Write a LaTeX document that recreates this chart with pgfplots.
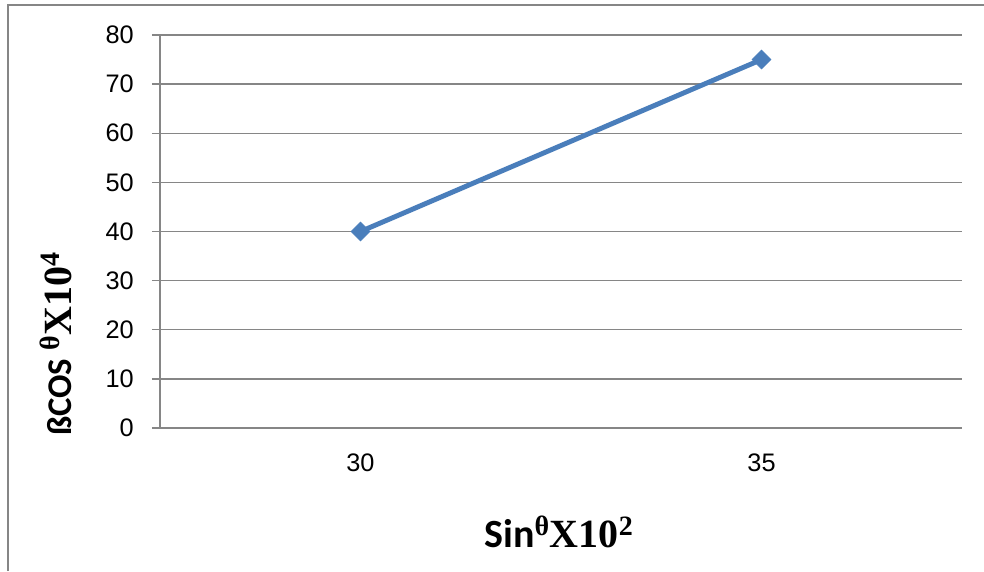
\documentclass[border=0pt]{standalone}
\usepackage{fontspec}
\setmainfont{Liberation Sans}
\newfontfamily\timesb{Liberation Serif}[BoldFont={* Bold}]
\newfontfamily\calib{Carlito}[BoldFont={* Bold}]
\usepackage{pgfplots}
\pgfplotsset{compat=1.18}
\definecolor{gridgray}{RGB}{134,134,134}
\definecolor{lineblue}{RGB}{74,126,187}
\begin{document}
\begin{tikzpicture}
\useasboundingbox (0pt,0pt) rectangle (738pt,-428.25pt);
\draw[gridgray,line width=1.5pt] (5.625pt,-428.25pt) -- (5.625pt,-3.75pt) -- (738pt,-3.75pt);
\begin{axis}[
  at={(120pt,-321pt)}, anchor=south west,
  scale only axis,
  width=601.5pt, height=294.75pt,
  xmin=-0.5, xmax=1.5,
  ymin=0, ymax=80,
  ytick={0,10,...,80},
  xtick={0,1}, xticklabels={30,35},
  axis x line*=bottom, axis y line*=left,
  axis line style={gridgray, line width=1pt},
  ymajorgrids,
  major grid style={gridgray, line width=1pt},
  tick align=outside,
  major tick length=6pt,
  ytick style={gridgray, line width=1pt},
  xtick style={draw=none},
  /pgf/number format/assume math mode=true,
  tick label style={font=\fontsize{19}{21}\selectfont, inner sep=0pt},
  yticklabel style={anchor=east, xshift=-13.5pt},
  xticklabel style={anchor=north, yshift=-13.5pt},
  every axis y label/.style={at={(rel axis cs:-0.1297,0.214)},rotate=90,anchor=center},
  every axis x label/.style={at={(rel axis cs:0.4975,-0.2646)},anchor=center},
  ylabel={{\calib\fontsize{26}{28}\selectfont\bfseries ßCOS\ }{\timesb\fontsize{30}{32}\selectfont\bfseries\textsuperscript{θ}X10\textsuperscript{4}}},
  xlabel={{\calib\fontsize{30}{32}\selectfont\bfseries Sin}{\timesb\fontsize{30}{32}\selectfont\bfseries\textsuperscript{θ}X10\textsuperscript{2}}},
]
\addplot[lineblue, line width=3.7pt, mark=square*, mark options={rotate=45, line width=0.5pt, fill=lineblue}, mark size=5pt]
  coordinates {(0,40) (1,75)};
\end{axis}
\end{tikzpicture}
\end{document}
